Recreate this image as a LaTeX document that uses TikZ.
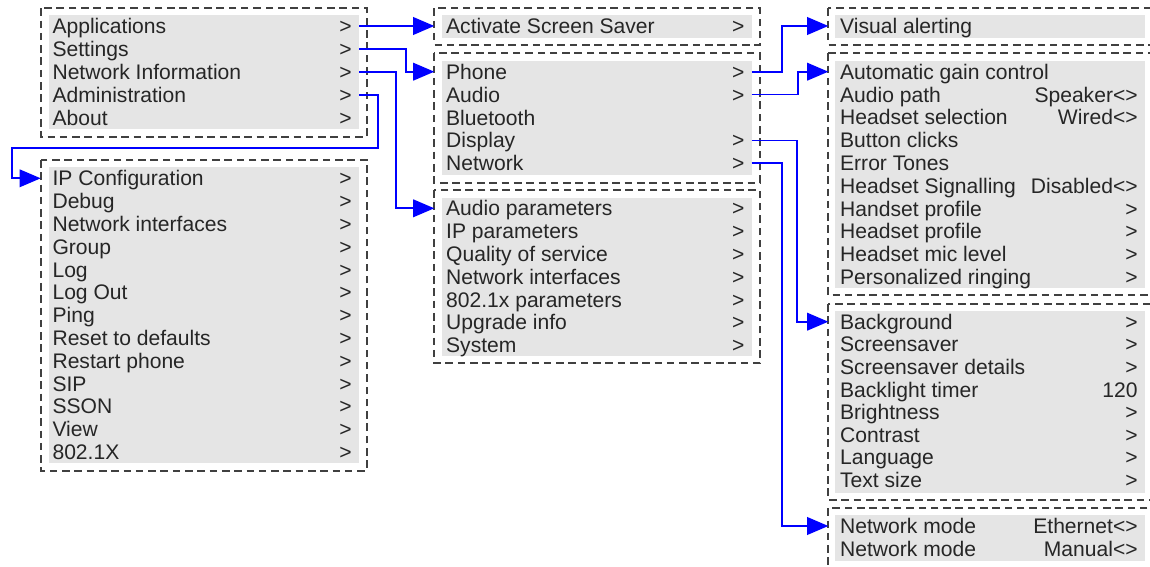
\documentclass[tikz,border=0pt]{standalone}
\usepackage{fontspec}
\setmainfont{Liberation Sans}
\usetikzlibrary{arrows.meta}

\begin{document}
\begin{tikzpicture}[x=0.02cm, y=-0.02cm,
  menuframe/.style={draw=black!75, line width=1.1pt, dash pattern=on 4.3pt off 2.7pt},
  menuband/.style={fill=black!10},
  menuitem/.style={anchor=west, inner xsep=0.23cm, inner ysep=0pt,
    text height=8.6pt, text depth=0pt, text=black!85, font=\fontsize{12}{14}\selectfont},
  itemval/.style={anchor=east, inner xsep=0.14cm, inner ysep=0pt,
    text height=8.6pt, text depth=0pt, text=black!85, font=\fontsize{12}{14}\selectfont},
  menulink/.style={blue, line width=1pt, -{Triangle[length=12pt, width=10pt]}}]

\useasboundingbox (0,0) rectangle (1150,567);
\clip (0,0) rectangle (1150,567);

% Menu backgrounds
\fill[menuband] (49,15)    rectangle (359,129);
\fill[menuband] (49,167)   rectangle (359,463);
\fill[menuband] (441.7,15) rectangle (751.7,38);
\fill[menuband] (441.7,61) rectangle (751.7,175);
\fill[menuband] (441.7,198) rectangle (751.7,356);
\fill[menuband] (835,15)   rectangle (1145,38);
\fill[menuband] (835,61)   rectangle (1145,288);
\fill[menuband] (835,311)  rectangle (1145,493);
\fill[menuband] (835,515)  rectangle (1145,561);

% Menu frames
\draw[menuframe] (40.7,8.3)   rectangle (366.7,136.7);
\draw[menuframe] (40.7,160)   rectangle (366.7,470.7);
\draw[menuframe] (434.3,8.3)  rectangle (760,45);
\draw[menuframe] (434.3,53.3) rectangle (760,182.7);
\draw[menuframe] (434.3,190)  rectangle (760,363.3);
\draw[menuframe] (828.3,8.3)  rectangle (1156,45);
\draw[menuframe] (828.3,53.3) rectangle (1156,295);
\draw[menuframe] (828.3,304)  rectangle (1156,500);
\draw[menuframe] (828.3,508.3) rectangle (1156,580);

% Main menu
\foreach \lbl/\val [count=\i] in {Applications/>, Settings/>,
    Network Information/>, Administration/>, About/>} {
  \node[menuitem] (main\i)   at (40.7,{26+23*(\i-1)}) {\lbl};
  \node[itemval]  (main\i-v) at (359,{26+23*(\i-1)}) {\val};
}

% Administration
\foreach \lbl/\val [count=\i] in {IP Configuration/>, Debug/>,
    Network interfaces/>, Group/>, Log/>, Log Out/>, Ping/>,
    Reset to defaults/>, Restart phone/>, SIP/>, SSON/>, View/>, 802.1X/>} {
  \node[menuitem] (admin\i)   at (40.7,{178.3+22.8*(\i-1)}) {\lbl};
  \node[itemval]  (admin\i-v) at (359,{178.3+22.8*(\i-1)}) {\val};
}

% Applications
\node[menuitem] (act1)   at (434.3,26) {Activate Screen Saver};
\node[itemval]  (act1-v) at (751.7,26) {>};

% Settings
\foreach \lbl/\val [count=\i] in {Phone/>, Audio/>, Bluetooth/{},
    Display/>, Network/>} {
  \node[menuitem] (set\i)   at (434.3,{71.7+22.9*(\i-1)}) {\lbl};
  \node[itemval]  (set\i-v) at (751.7,{71.7+22.9*(\i-1)}) {\val};
}

% Network Information
\foreach \lbl/\val [count=\i] in {Audio parameters/>, IP parameters/>,
    Quality of service/>, Network interfaces/>, 802.1x parameters/>,
    Upgrade info/>, System/>} {
  \node[menuitem] (net\i)   at (434.3,{208.3+22.8*(\i-1)}) {\lbl};
  \node[itemval]  (net\i-v) at (751.7,{208.3+22.8*(\i-1)}) {\val};
}

% Phone
\node[menuitem] (vis1) at (828.3,26) {Visual alerting};

% Audio
\foreach \lbl/\val [count=\i] in {Automatic gain control/{},
    Audio path/Speaker<>, Headset selection/Wired<>, Button clicks/{},
    Error Tones/{}, Headset Signalling/Disabled<>, Handset profile/>,
    Headset profile/>, Headset mic level/>, Personalized ringing/>} {
  \node[menuitem] (aud\i)   at (828.3,{71.7+22.8*(\i-1)}) {\lbl};
  \node[itemval]  (aud\i-v) at (1145,{71.7+22.8*(\i-1)}) {\val};
}

% Display
\foreach \lbl/\val [count=\i] in {Background/>, Screensaver/>,
    Screensaver details/>, Backlight timer/120, Brightness/>,
    Contrast/>, Language/>, Text size/>} {
  \node[menuitem] (disp\i)   at (828.3,{321.7+22.6*(\i-1)}) {\lbl};
  \node[itemval]  (disp\i-v) at (1145,{321.7+22.6*(\i-1)}) {\val};
}

% Network
\foreach \lbl/\val [count=\i] in {Network mode/Ethernet<>,
    Network mode/Manual<>} {
  \node[menuitem] (nw\i)   at (828.3,{526+22.6*(\i-1)}) {\lbl};
  \node[itemval]  (nw\i-v) at (1145,{526+22.6*(\i-1)}) {\val};
}

% Links
\coordinate (elbow) at (11.7,147.7);
\draw[menulink] (main1-v.east) -- (act1.west);
\draw[menulink] (main2-v.east) -- ++(47,0) |- (set1.west);
\draw[menulink] (main3-v.east) -- ++(37,0) |- (net1.west);
\draw[menulink] (main4-v.east) -- ++(19,0) |- (elbow) |- (admin1.west);
\draw[menulink] (set1-v.east) -- ++(30,0) |- (vis1.west);
\draw[menulink] (set2-v.east) -- ++(46,0) |- (aud1.west);
\draw[menulink] (set4-v.east) -- ++(45,0) |- (disp1.west);
\draw[menulink] (set5-v.east) -- ++(30,0) |- (nw1.west);

\end{tikzpicture}
\end{document}
